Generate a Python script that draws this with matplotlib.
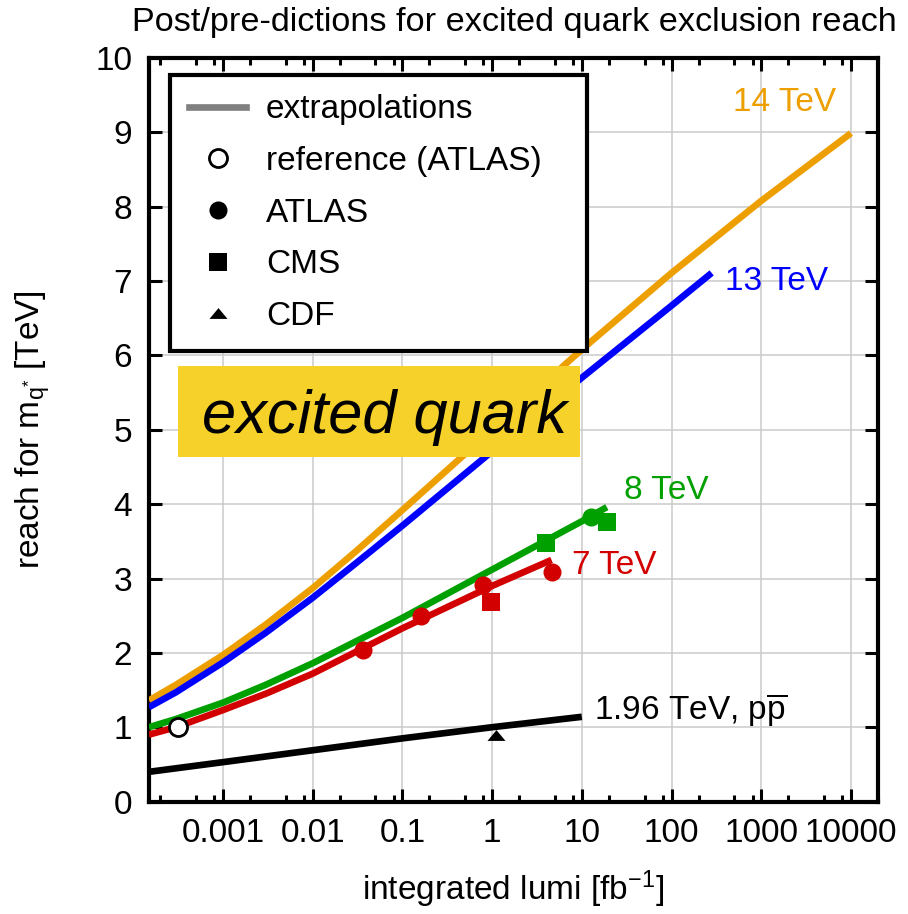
import matplotlib
matplotlib.use("Agg")
import matplotlib.pyplot as plt
from matplotlib.lines import Line2D
from matplotlib.patches import Rectangle
from matplotlib.ticker import FixedLocator, LogLocator, NullFormatter

plt.rcParams['font.family'] = ['Liberation Sans', 'DejaVu Sans']
plt.rcParams['mathtext.fontset'] = 'custom'
plt.rcParams['mathtext.rm'] = 'Liberation Sans'
plt.rcParams['mathtext.it'] = 'Liberation Sans:italic'

# extrapolated exclusion reach, lumi in fb^-1, reach in TeV
lumi_14 = [1.5e-4, 3e-4, 1e-3, 3e-3, 1e-2, 0.03, 0.1, 1, 10, 100, 1000, 1e4]
reach_14 = [1.36, 1.57, 1.97, 2.38, 2.87, 3.36, 3.92, 5.00, 6.08, 7.11, 8.08, 8.99]

lumi_13 = [1.5e-4, 3e-4, 1e-3, 3e-3, 1e-2, 0.03, 0.1, 1, 10, 100, 280]
reach_13 = [1.27, 1.47, 1.87, 2.27, 2.74, 3.20, 3.71, 4.71, 5.70, 6.67, 7.11]

lumi_8 = [1.5e-4, 3e-4, 1e-3, 3e-3, 1e-2, 0.1, 1, 10, 19]
reach_8 = [1.00, 1.11, 1.33, 1.57, 1.86, 2.47, 3.12, 3.77, 3.96]

lumi_7 = [1.5e-4, 3e-4, 1e-3, 3e-3, 1e-2, 0.1, 1, 4.6]
reach_7 = [0.90, 1.00, 1.23, 1.45, 1.72, 2.33, 2.90, 3.25]

lumi_tev = [1.5e-4, 1e-3, 1e-2, 0.1, 1, 10]
reach_tev = [0.40, 0.53, 0.69, 0.85, 1.00, 1.14]

# published limits
ref_lumi, ref_reach = [3.2e-4], [1.0]
atlas7_lumi = [0.036, 0.163, 0.79, 4.6]
atlas7_reach = [2.04, 2.50, 2.91, 3.09]
cms7_lumi, cms7_reach = [0.98], [2.68]
atlas8_lumi, atlas8_reach = [12.6], [3.83]
cms8_lumi = [3.98, 19.0]
cms8_reach = [3.48, 3.76]
cdf_lumi, cdf_reach = [1.1], [0.90]

xtick_vals = [1e-3, 1e-2, 0.1, 1, 10, 100, 1000, 1e4]
xtick_labels = ['0.001', '0.01', '0.1', '1', '10', '100', '1000', '10000']

c_14 = '#ee9f00'
c_13 = '#0000ff'
c_8 = '#00a000'
c_7 = '#d20000'
lw = 4.8
ms = 13
tri = [(-1, -0.6), (1, -0.6), (0, 0.6)]

fig = plt.figure(figsize=(9.08, 9.14), dpi=100)
ax = fig.add_axes([0.164, 0.123, 0.803, 0.8135])

ax.set_xscale('log')
ax.set_xlim(1.5e-4, 2e4)
ax.set_ylim(0, 10)

curves = [(lumi_14, reach_14, c_14), (lumi_13, reach_13, c_13),
          (lumi_8, reach_8, c_8), (lumi_7, reach_7, c_7),
          (lumi_tev, reach_tev, 'black')]
for x, y, c in curves:
    ax.plot(x, y, color=c, lw=lw, solid_capstyle='butt',
            solid_joinstyle='round', zorder=3)

ax.plot(atlas7_lumi, atlas7_reach, 'o', color=c_7, ms=ms, mew=0, zorder=4)
ax.plot(cms7_lumi, cms7_reach, 's', color=c_7, ms=ms, mew=0, zorder=4)
ax.plot(atlas8_lumi, atlas8_reach, 'o', color=c_8, ms=ms, mew=0, zorder=4)
ax.plot(cms8_lumi, cms8_reach, 's', color=c_8, ms=ms, mew=0, zorder=4)
ax.plot(cdf_lumi, cdf_reach, marker=tri, ls='none', color='black', ms=ms, mew=0, zorder=4)
ax.plot(ref_lumi, ref_reach, 'o', mfc='white', mec='black', ms=ms, mew=2, zorder=5)

fs = 24
ax.text(489, 9.40, '14 TeV', color=c_14, fontsize=fs, va='center', ha='left')
ax.text(398, 6.99, '13 TeV', color=c_13, fontsize=fs, va='center', ha='left')
ax.text(29.3, 4.19, '8 TeV', color=c_8, fontsize=fs, va='center', ha='left')
ax.text(7.74, 3.18, '7 TeV', color=c_7, fontsize=fs, va='center', ha='left')
ax.text(13.6, 1.23, r'1.96 TeV, p$\overline{\mathrm{p}}$', color='black',
        fontsize=fs, va='center', ha='left')

# yellow tag
ax.add_patch(Rectangle((0.0398, 0.463), 0.551, 0.123, transform=ax.transAxes,
                       facecolor='#f5d12a', edgecolor='none', zorder=6))
ax.text(0.073, 0.4956, 'excited quark', transform=ax.transAxes, fontsize=44.2,
        style='italic', ha='left', va='baseline', zorder=7)

# axes styling
ax.xaxis.set_major_locator(FixedLocator(xtick_vals))
ax.set_xticklabels(xtick_labels)
ax.xaxis.set_minor_locator(LogLocator(base=10, subs=(2, 5, 8), numticks=30))
ax.xaxis.set_minor_formatter(NullFormatter())
ax.set_yticks(range(0, 11))
ax.tick_params(which='both', direction='in', top=True, right=True, width=2.2,
               labelsize=fs)
ax.tick_params(which='major', length=9.5, pad=12)
ax.tick_params(which='minor', length=5)
for s in ax.spines.values():
    s.set_linewidth(3)
ax.grid(True, which='major', color='#cacaca', lw=1.1, zorder=0)
ax.set_axisbelow(True)

ax.set_xlabel(r'integrated lumi [fb$^{-1}$]', fontsize=fs)
ax.xaxis.set_label_coords(0.5, -0.0894)
ax.set_ylabel(r'reach for m$_{\mathrm{q}^{*}}$ [TeV]', fontsize=fs)
ax.yaxis.set_label_coords(-0.133, 0.5)

fig.text(0.567, 1 - 22 / 914, 'Post/pre-dictions for excited quark exclusion reach',
         fontsize=24.7, ha='center', va='center')

handles = [
    Line2D([], [], color='#808080', lw=lw),
    Line2D([], [], marker='o', ls='none', mfc='white', mec='black', ms=ms, mew=2),
    Line2D([], [], marker='o', ls='none', color='black', ms=ms, mew=0),
    Line2D([], [], marker='s', ls='none', color='black', ms=ms, mew=0),
    Line2D([], [], marker=tri, ls='none', color='black', ms=ms, mew=0),
]
labels = ['extrapolations', 'reference (ATLAS)', 'ATLAS', 'CMS', 'CDF']
leg = ax.legend(handles, labels, loc='upper left',
                bbox_to_anchor=(0.0288, 0.0, 0.572, 0.977), mode='expand',
                borderaxespad=0, fontsize=fs, frameon=True, fancybox=False,
                edgecolor='black', framealpha=1, handlelength=1.7,
                handletextpad=0.6, labelspacing=0.62, borderpad=0.58)
leg.get_frame().set_linewidth(3)
leg.set_zorder(10)

fig.savefig('out.png', dpi=100)
